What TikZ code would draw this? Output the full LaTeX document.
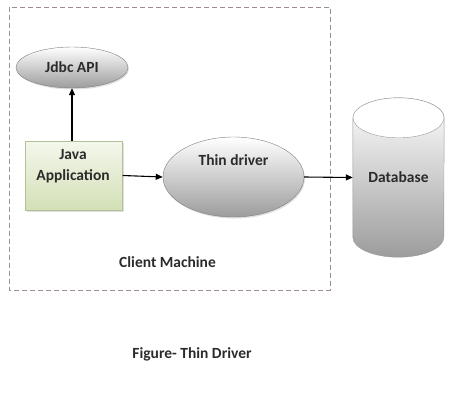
\documentclass[tikz,border=0pt]{standalone}
\usepackage{fontspec}
\setmainfont{Carlito}
\usetikzlibrary{arrows.meta,shapes.geometric,shadows,backgrounds}
\definecolor{appTop}{HTML}{F4F7EC}
\definecolor{appBot}{HTML}{D3E0B6}
\definecolor{appEdge}{HTML}{B3C294}
\definecolor{machine}{HTML}{9E8E8E}
\definecolor{blobBot}{HTML}{9C9C9C}
\definecolor{ink}{HTML}{2B2B2B}

\begin{document}
\begin{tikzpicture}[x=1pt,y=-1pt,line join=round,
  font=\fontsize{15.5}{21}\selectfont\bfseries,text=ink,
  blob/.style={ellipse,draw=gray,top color=white,bottom color=blobBot,inner sep=0,
    drop shadow={opacity=.25,shadow xshift=1pt,shadow yshift=-1.5pt}},
  app/.style={rectangle,draw=appEdge,top color=appTop,bottom color=appBot,inner sep=0,
    drop shadow={opacity=.25,shadow xshift=1pt,shadow yshift=-1.5pt}},
  link/.style={-{Triangle[length=7pt,width=6pt]},line width=1.1pt}]
  \useasboundingbox (0,0) rectangle (459,400);
  \draw[machine,line width=.8pt,dash pattern=on 5pt off 3pt] (9,7) rectangle (330,290);
  \node (jdbc) [blob,minimum width=112pt,minimum height=41pt] at (72,67.5) {Jdbc API};
  \node (java) [app,minimum width=97pt,minimum height=69pt] at (74,175.5) {};
  \node (javatext) [align=center] at (73,166.5) {Java\\Application};
  \node (thin) [blob,minimum width=141pt,minimum height=80pt] at (233.5,177) {};
  \node (thintext) at ([yshift=17pt]thin.center) {Thin driver};
  \node (db) [inner sep=0,minimum width=91pt,minimum height=159pt] at (398.5,177.5) {Database};
  \begin{scope}[on background layer]
    \shade[draw=gray!80,top color=white,bottom color=blobBot]
      ([yshift=-20pt]db.north west) -- ([yshift=20pt]db.south west)
      arc[start angle=180,end angle=360,x radius=45.5pt,y radius=20pt]
      -- ([yshift=-20pt]db.north east)
      arc[start angle=0,end angle=180,x radius=45.5pt,y radius=20pt] -- cycle;
    \draw[gray!80,fill=white] ([yshift=-20pt]db.north) ellipse [x radius=45.5pt,y radius=20pt];
  \end{scope}
  \draw[link] (java.north -| jdbc.south) -- (jdbc.south);
  \draw[link] (java.east) -- (thin.west);
  \draw[link] (thin.east) -- (db.west);
  \node (client) at (167.5,262) {Client Machine};
  \node (caption) at (192,354) {Figure- Thin Driver};
\end{tikzpicture}
\end{document}
